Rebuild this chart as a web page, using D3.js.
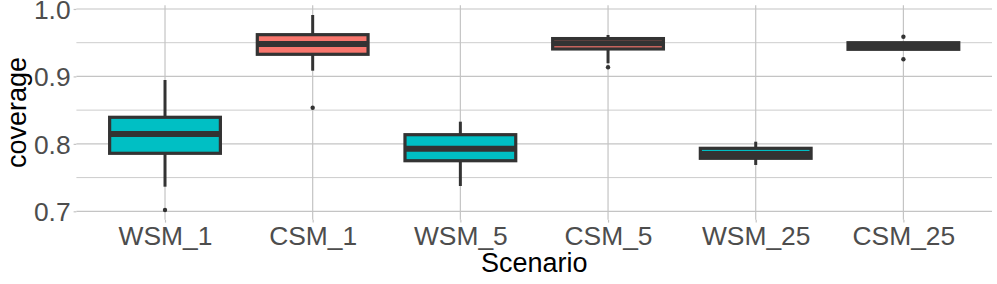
<!DOCTYPE html>
<html>
<head>
<meta charset="utf-8">
<script src="https://cdn.jsdelivr.net/npm/d3@7"></script>
<style>
  body { margin: 0; background: #fff; }
  text { font-family: "Liberation Sans", Arial, Helvetica, sans-serif; }
</style>
</head>
<body>
<div id="chart"></div>
<script>
var categories = ['WSM_1', 'CSM_1', 'WSM_5', 'CSM_5', 'WSM_25', 'CSM_25']
var lowerWhisker = [0.7365, 0.9085, 0.7375, 0.9195, 0.7687, 0.9400]
var q1 = [0.7860, 0.9328, 0.7750, 0.9407, 0.7786, 0.9402]
var median = [0.8146, 0.9481, 0.7928, 0.9493, 0.7850, 0.9451]
var q3 = [0.8394, 0.9619, 0.8136, 0.9561, 0.7934, 0.9500]
var upperWhisker = [0.8947, 0.9911, 0.8329, 0.9614, 0.8032, 0.9510]
var outliers = [[0.7019], [0.8536], [], [0.9135], [], [0.9589, 0.9254]]
var groupColor = { WSM: '#00BFC4', CSM: '#F8766D' }
var yTicks = [0.7, 0.8, 0.9, 1.0]
var yMinor = [0.75, 0.85, 0.95]

var W = 997, H = 284
var margin = { top: 5.2, right: 5, bottom: 64.2, left: 76.4 }

var svg = d3.select('#chart').append('svg')
    .attr('width', W)
    .attr('height', H)

var x = d3.scalePoint()
    .domain(categories)
    .range([margin.left, W - margin.right])
    .padding(0.6)

var y = d3.scaleLinear()
    .domain([0.6874, 1.0056])
    .range([H - margin.bottom, margin.top])

var boxW = x.step() * 0.75

// grid
var grid = svg.append('g')
grid.selectAll('.minor').data(yMinor).enter().append('line')
    .attr('x1', margin.left).attr('x2', W - margin.right)
    .attr('y1', function (d) { return y(d) }).attr('y2', function (d) { return y(d) })
    .attr('stroke', '#cdcdcd').attr('stroke-width', 1)
grid.selectAll('.major').data(yTicks).enter().append('line')
    .attr('x1', margin.left).attr('x2', W - margin.right)
    .attr('y1', function (d) { return y(d) }).attr('y2', function (d) { return y(d) })
    .attr('stroke', '#c4c4c4').attr('stroke-width', 1.2)
grid.selectAll('.vert').data(categories).enter().append('line')
    .attr('x1', function (d) { return x(d) }).attr('x2', function (d) { return x(d) })
    .attr('y1', margin.top).attr('y2', H - margin.bottom)
    .attr('stroke', '#c4c4c4').attr('stroke-width', 1.2)

// axes
var yAxis = svg.append('g')
    .attr('transform', 'translate(' + margin.left + ',0)')
    .call(d3.axisLeft(y).tickValues(yTicks).tickFormat(d3.format('.1f')).tickSize(2.8).tickPadding(3))
var xAxis = svg.append('g')
    .attr('transform', 'translate(0,' + (H - margin.bottom) + ')')
    .call(d3.axisBottom(x).tickSize(2.8).tickPadding(3))
svg.selectAll('.domain').remove()
svg.selectAll('.tick line').attr('stroke', '#c4c4c4').attr('stroke-width', 1.2)
svg.selectAll('.tick text')
    .attr('fill', '#4d4d4d')
    .style('font-size', '26.4px')
    .style('font-family', '"Liberation Sans", Arial, Helvetica, sans-serif')
yAxis.selectAll('.tick text').attr('dy', '0.36em')
xAxis.selectAll('.tick text').attr('dy', '0.74em')

svg.append('text')
    .attr('x', (margin.left + W - margin.right) / 2)
    .attr('y', 271.5)
    .attr('text-anchor', 'middle')
    .style('font-size', '27px')
    .text('Scenario')

svg.append('text')
    .attr('transform', 'translate(26,' + ((margin.top + H - margin.bottom) / 2) + ') rotate(-90)')
    .attr('text-anchor', 'middle')
    .style('font-size', '27px')
    .text('coverage')

// boxes
var stroke = '#333333'
var boxes = svg.selectAll('.box').data(categories).enter().append('g')

boxes.append('line')
    .attr('x1', function (d) { return x(d) }).attr('x2', function (d) { return x(d) })
    .attr('y1', function (d, i) { return y(upperWhisker[i]) })
    .attr('y2', function (d, i) { return y(q3[i]) })
    .attr('stroke', stroke).attr('stroke-width', 3)
boxes.append('line')
    .attr('x1', function (d) { return x(d) }).attr('x2', function (d) { return x(d) })
    .attr('y1', function (d, i) { return y(q1[i]) })
    .attr('y2', function (d, i) { return y(lowerWhisker[i]) })
    .attr('stroke', stroke).attr('stroke-width', 3)
boxes.append('rect')
    .attr('x', function (d) { return x(d) - boxW / 2 })
    .attr('width', boxW)
    .attr('y', function (d, i) { return y(q3[i]) })
    .attr('height', function (d, i) { return y(q1[i]) - y(q3[i]) })
    .attr('fill', function (d) { return groupColor[d.split('_')[0]] })
    .attr('stroke', stroke).attr('stroke-width', 3.2)
boxes.append('line')
    .attr('x1', function (d) { return x(d) - boxW / 2 })
    .attr('x2', function (d) { return x(d) + boxW / 2 })
    .attr('y1', function (d, i) { return y(median[i]) })
    .attr('y2', function (d, i) { return y(median[i]) })
    .attr('stroke', stroke).attr('stroke-width', 6)

boxes.each(function (d, i) {
  d3.select(this).selectAll('circle').data(outliers[i]).enter().append('circle')
      .attr('cx', x(d))
      .attr('cy', function (v) { return y(v) })
      .attr('r', 2.2)
      .attr('fill', stroke)
})
</script>
</body>
</html>
